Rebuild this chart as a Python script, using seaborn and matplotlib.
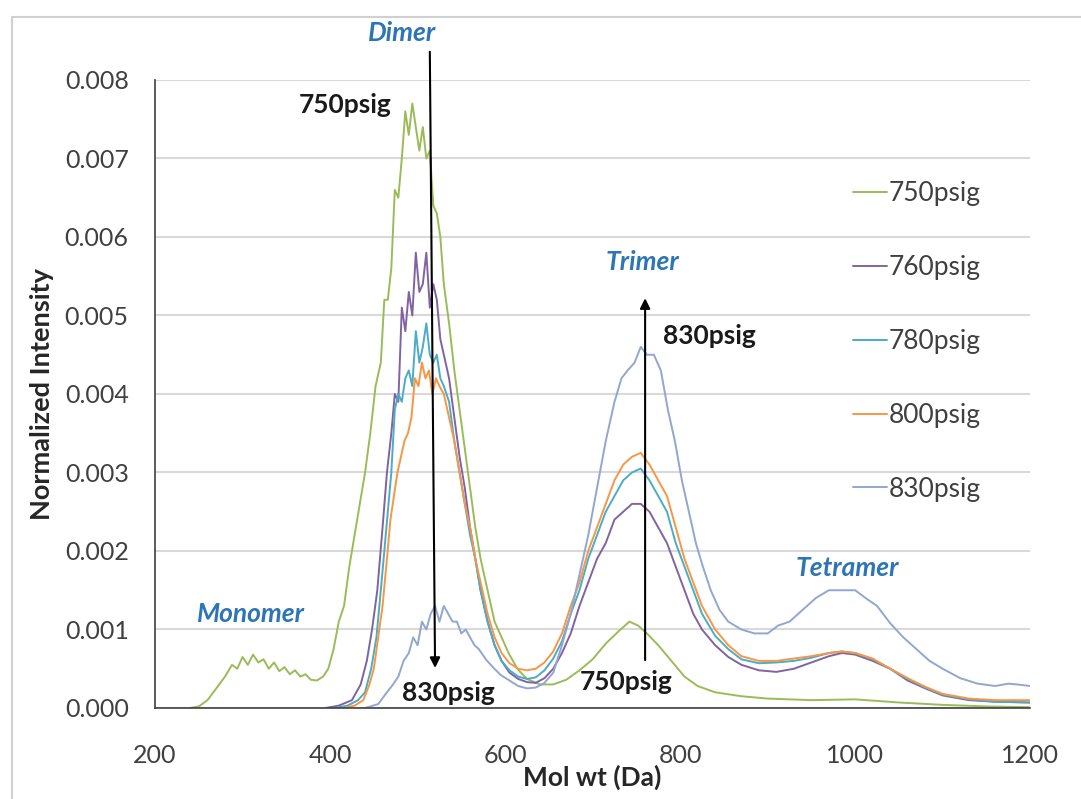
import numpy as np
import pandas as pd
import matplotlib
matplotlib.use("Agg")
import matplotlib.pyplot as plt
import seaborn as sns
from matplotlib.patches import Rectangle

# ---------------- data ----------------
series_names = ["750psig", "760psig", "780psig", "800psig", "830psig"]
series_colors = ["#9BBB59", "#8064A2", "#4BACC6", "#F79646", "#93A6CE"]

mw_750 = [240, 250, 260, 270, 280, 288, 294, 300, 306, 312, 318, 324, 330, 336, 342, 348, 354, 360, 366, 372,
          378, 385, 392, 398, 404, 410, 416, 422, 428, 434, 440, 446, 452, 458, 462, 466, 470, 474, 478, 482,
          486, 490, 494, 498, 502, 506, 510, 514, 518, 522, 526, 530, 536, 542, 548, 554, 560, 566, 572, 580,
          588, 596, 604, 614, 625, 640, 655, 670, 685, 700, 715, 730, 742, 752, 762, 775, 790, 805, 820, 840,
          870, 900, 950, 1000, 1050, 1100, 1150, 1200]
int_750 = [0.0, 0.00002, 0.0001, 0.00025, 0.0004, 0.00055, 0.0005, 0.00065, 0.00055, 0.00068, 0.00058, 0.00062,
           0.0005, 0.00058, 0.00047, 0.00052, 0.00043, 0.00048, 0.0004, 0.00043, 0.00036, 0.00035, 0.0004, 0.0005,
           0.00075, 0.0011, 0.0013, 0.0018, 0.0022, 0.0026, 0.003, 0.0035, 0.0041, 0.0044, 0.0052, 0.0052, 0.0056,
           0.0066, 0.0065, 0.007, 0.0076, 0.0073, 0.0077, 0.0074, 0.0071, 0.0074, 0.007, 0.0071, 0.0064, 0.0063,
           0.006, 0.0054, 0.0049, 0.0043, 0.0038, 0.0033, 0.0028, 0.0023, 0.0019, 0.0015, 0.0011, 0.0009, 0.0007,
           0.0005, 0.00037, 0.0003, 0.0003, 0.00036, 0.00048, 0.00062, 0.00082, 0.00098, 0.0011, 0.00105, 0.00095,
           0.0008, 0.0006, 0.0004, 0.00028, 0.0002, 0.00015, 0.00012, 0.0001, 0.00011, 0.00007, 0.00004, 0.00002,
           0.00001]

mw_760 = [395, 410, 425, 435, 442, 448, 454, 460, 465, 470, 474, 478, 482, 486, 490, 494, 498, 502, 506, 510,
          514, 518, 522, 526, 530, 536, 542, 548, 554, 560, 566, 572, 580, 588, 596, 605, 615, 625, 635, 645,
          655, 665, 675, 685, 695, 705, 715, 725, 735, 745, 755, 765, 775, 785, 795, 805, 815, 825, 840, 855,
          870, 890, 910, 930, 950, 970, 985, 1000, 1020, 1040, 1060, 1080, 1100, 1130, 1160, 1200]
int_760 = [0.0, 0.00003, 0.0001, 0.0003, 0.0006, 0.001, 0.0015, 0.0023, 0.003, 0.0035, 0.004, 0.0039, 0.0051,
           0.0048, 0.0053, 0.005, 0.0058, 0.0053, 0.0054, 0.0058, 0.0051, 0.0054, 0.0052, 0.0047, 0.0045, 0.0042,
           0.0037, 0.0032, 0.0028, 0.0023, 0.0019, 0.0015, 0.0011, 0.0008, 0.0006, 0.00045, 0.00037, 0.00033,
           0.00032, 0.00038, 0.0005, 0.0007, 0.00095, 0.0013, 0.0016, 0.0019, 0.0021, 0.0024, 0.0025, 0.0026,
           0.0026, 0.0025, 0.0023, 0.0021, 0.0018, 0.0015, 0.0012, 0.001, 0.0008, 0.00065, 0.00055, 0.00048,
           0.00046, 0.0005, 0.00058, 0.00066, 0.0007, 0.00068, 0.0006, 0.0005, 0.00035, 0.00025, 0.00016, 0.0001,
           0.00008, 0.00007]

mw_780 = [405, 420, 432, 440, 447, 453, 458, 462, 466, 470, 474, 478, 482, 486, 490, 494, 498, 502, 506, 510,
          514, 518, 522, 526, 530, 536, 542, 548, 554, 560, 566, 572, 580, 588, 596, 605, 615, 625, 635, 645,
          655, 665, 675, 685, 695, 705, 715, 725, 735, 745, 755, 765, 775, 785, 795, 805, 815, 825, 840, 855,
          870, 890, 910, 930, 950, 970, 985, 1000, 1020, 1040, 1060, 1080, 1100, 1130, 1160, 1200]
int_780 = [0.0, 0.00003, 0.0001, 0.0002, 0.0005, 0.0009, 0.0015, 0.002, 0.0025, 0.003, 0.0038, 0.004, 0.0039,
           0.0042, 0.0043, 0.0041, 0.0048, 0.0044, 0.0046, 0.0049, 0.0045, 0.0044, 0.0045, 0.0042, 0.0041, 0.0039,
           0.0034, 0.003, 0.0026, 0.0022, 0.0019, 0.0015, 0.0011, 0.0008, 0.0006, 0.00048, 0.0004, 0.00037,
           0.00039, 0.00048, 0.00063, 0.00085, 0.0012, 0.0015, 0.0019, 0.0022, 0.0025, 0.0027, 0.0029, 0.003,
           0.00305, 0.0029, 0.0027, 0.0025, 0.0021, 0.0018, 0.0015, 0.0012, 0.00092, 0.00075, 0.00062, 0.00057,
           0.00058, 0.0006, 0.00064, 0.0007, 0.00072, 0.0007, 0.00062, 0.0005, 0.00037, 0.00026, 0.00017,
           0.00011, 0.00008, 0.00007]

mw_800 = [415, 428, 438, 445, 450, 455, 460, 465, 469, 473, 477, 481, 485, 489, 493, 497, 501, 505, 509, 513,
          517, 521, 525, 530, 536, 542, 548, 554, 560, 566, 572, 580, 588, 596, 605, 615, 625, 635, 645, 655,
          665, 675, 685, 695, 705, 715, 725, 735, 745, 755, 765, 775, 785, 795, 805, 815, 825, 840, 855, 870,
          890, 910, 930, 950, 970, 985, 1000, 1020, 1040, 1060, 1080, 1100, 1130, 1160, 1200]
int_800 = [0.0, 0.00003, 0.0001, 0.0003, 0.0005, 0.0009, 0.0013, 0.0019, 0.0024, 0.0027, 0.003, 0.0032, 0.0034,
           0.0035, 0.0037, 0.0042, 0.0041, 0.0044, 0.0042, 0.0043, 0.004, 0.0042, 0.0041, 0.004, 0.0037, 0.0034,
           0.003, 0.0026, 0.0023, 0.0019, 0.0016, 0.0012, 0.0009, 0.0007, 0.00057, 0.0005, 0.00048, 0.0005,
           0.00058, 0.00072, 0.00095, 0.0013, 0.0016, 0.002, 0.0023, 0.0026, 0.0029, 0.0031, 0.0032, 0.00325,
           0.0031, 0.0029, 0.0027, 0.0023, 0.0019, 0.0016, 0.0013, 0.001, 0.0008, 0.00066, 0.0006, 0.0006,
           0.00063, 0.00066, 0.0007, 0.00072, 0.0007, 0.00063, 0.0005, 0.00038, 0.00027, 0.00018, 0.00012,
           0.0001, 0.0001]

mw_830 = [440, 455, 465, 472, 478, 484, 490, 495, 500, 505, 510, 515, 520, 525, 530, 535, 540, 545, 550, 555,
          560, 565, 570, 578, 586, 595, 605, 615, 625, 635, 645, 655, 665, 675, 685, 695, 705, 715, 725, 733,
          740, 748, 755, 762, 770, 778, 786, 794, 802, 810, 818, 826, 835, 845, 855, 870, 885, 900, 912, 925,
          940, 955, 970, 985, 1000, 1012, 1025, 1040, 1055, 1070, 1085, 1100, 1120, 1140, 1160, 1175, 1185, 1200]
int_830 = [0.0, 0.00005, 0.0002, 0.0003, 0.0004, 0.0006, 0.0007, 0.0009, 0.0008, 0.0011, 0.001, 0.0012, 0.0013,
           0.0011, 0.0013, 0.0012, 0.0011, 0.0011, 0.00095, 0.001, 0.0009, 0.0008, 0.00075, 0.00062, 0.00052,
           0.00042, 0.00035, 0.00028, 0.00025, 0.00026, 0.00032, 0.00045, 0.0008, 0.0012, 0.0017, 0.0022,
           0.0028, 0.0034, 0.0039, 0.0042, 0.0043, 0.0044, 0.0046, 0.0045, 0.0045, 0.0043, 0.0038, 0.0034,
           0.0029, 0.0025, 0.0021, 0.0018, 0.0015, 0.00125, 0.0011, 0.001, 0.00095, 0.00095, 0.00105, 0.0011,
           0.00125, 0.0014, 0.0015, 0.0015, 0.0015, 0.0014, 0.0013, 0.00108, 0.0009, 0.00075, 0.0006, 0.0005,
           0.00038, 0.00031, 0.00028, 0.00031, 0.0003, 0.00028]

x_ticks = [200, 400, 600, 800, 1000, 1200]
y_ticks = [0.000, 0.001, 0.002, 0.003, 0.004, 0.005, 0.006, 0.007, 0.008]

# ---------------- build long-form table ----------------
frames = []
for name, mw, val in zip(series_names,
                         [mw_750, mw_760, mw_780, mw_800, mw_830],
                         [int_750, int_760, int_780, int_800, int_830]):
    frames.append(pd.DataFrame({"mw": mw, "intensity": val, "series": name}))
df = pd.concat(frames, ignore_index=True)

# ---------------- style ----------------
sns.set_style("white")
plt.rcParams["font.family"] = ["Lato", "DejaVu Sans"]

fig = plt.figure(figsize=(10.81, 7.99), dpi=100, facecolor="white")
ax = fig.add_axes([0.1434, 0.1139, 0.953 - 0.1434, 0.8999 - 0.1139])

ax.yaxis.grid(True, color="#d9d9d9", linewidth=1.5, zorder=0)
ax.set_axisbelow(True)

sns.lineplot(data=df, x="mw", y="intensity", hue="series", hue_order=series_names,
             palette=dict(zip(series_names, series_colors)), estimator=None, sort=True,
             linewidth=1.4, ax=ax)

ax.set_xlim(200, 1200)
ax.set_ylim(0, 0.008)
ax.set_xticks(x_ticks)
ax.set_yticks(y_ticks)
ax.set_yticklabels([f"{v:.3f}" for v in y_ticks])
ax.tick_params(axis="both", labelsize=18, colors="#404040", labelcolor="#404040",
               direction="out", length=6, width=1.2)
ax.tick_params(axis="y", pad=13)
ax.tick_params(axis="x", pad=20)

for s in ["top", "right"]:
    ax.spines[s].set_visible(False)
for s in ["left", "bottom"]:
    ax.spines[s].set_color("#404040")
    ax.spines[s].set_linewidth(1.2)

ax.set_xlabel("Mol wt (Da)", fontsize=19, fontweight="bold", color="#262626", labelpad=-2)
ax.set_ylabel("Normalized Intensity", fontsize=19.5, fontweight="bold", color="#262626", labelpad=8)

# legend
leg = ax.legend(loc="upper left", bbox_to_anchor=(0.789, 0.773), bbox_transform=fig.transFigure,
                frameon=False, fontsize=19, handlelength=1.3, handletextpad=0.05,
                labelspacing=1.85, borderaxespad=0, borderpad=0)
for t in leg.get_texts():
    t.set_color("#404040")
for h in leg.get_lines():
    h.set_linewidth(1.4)

# annotations
blue = "#2E75B6"
ann_fs = 19
ax.text(482, 0.0086, "Dimer", color=blue, fontsize=ann_fs, fontstyle="italic", fontweight="bold",
        ha="center", va="center", clip_on=False)
ax.text(310, 0.0012, "Monomer", color=blue, fontsize=ann_fs, fontstyle="italic", fontweight="bold",
        ha="center", va="center")
ax.text(757, 0.00568, "Trimer", color=blue, fontsize=ann_fs, fontstyle="italic", fontweight="bold",
        ha="center", va="center")
ax.text(991, 0.00178, "Tetramer", color=blue, fontsize=ann_fs, fontstyle="italic", fontweight="bold",
        ha="center", va="center")

ax.text(417, 0.00768, "750psig", color="#1a1a1a", fontsize=ann_fs, fontweight="bold", ha="center", va="center")
ax.text(535, 0.00019, "830psig", color="#1a1a1a", fontsize=ann_fs, fontweight="bold", ha="center", va="center")
ax.text(833, 0.00474, "830psig", color="#1a1a1a", fontsize=ann_fs, fontweight="bold", ha="center", va="center")
ax.text(738, 0.00033, "750psig", color="#1a1a1a", fontsize=ann_fs, fontweight="bold", ha="center", va="center")

ax.annotate("", xy=(520, 0.00051), xytext=(514, 0.00836),
            arrowprops=dict(arrowstyle="-|>", color="black", lw=1.5, mutation_scale=15,
                            shrinkA=0, shrinkB=0),
            annotation_clip=False)
ax.annotate("", xy=(760, 0.00522), xytext=(760, 0.00061),
            arrowprops=dict(arrowstyle="-|>", color="black", lw=1.5, mutation_scale=15,
                            shrinkA=0, shrinkB=0),
            annotation_clip=False)

# chart-area border (Excel style)
fig.patches.append(Rectangle((0.011, -0.05), 1.2, 1 - 17 / 799 + 0.05, transform=fig.transFigure,
                             fill=False, edgecolor="#d0d0d0", linewidth=1.5, zorder=0))

fig.savefig("out.png", dpi=100, facecolor="white")
